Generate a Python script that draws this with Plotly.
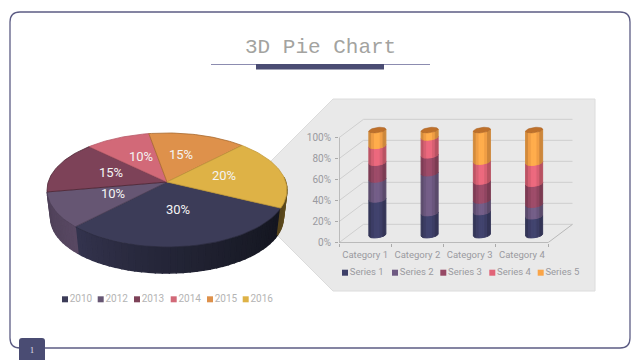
import math
import plotly.graph_objects as go

# ---------- data ----------
pie_labels = ["2010", "2012", "2013", "2014", "2015", "2016"]
pie_values = [30, 10, 15, 10, 15, 20]
categories = ["Category 1", "Category 2", "Category 3", "Category 4"]
series_names = ["Series 1", "Series 2", "Series 3", "Series 4", "Series 5"]
series_1 = [34, 21, 22, 18]
series_2 = [19, 38, 11, 11]
series_3 = [16, 17, 18, 20]
series_4 = [16, 17, 19, 20]
series_5 = [15, 7, 30, 31]
y_ticks = [0, 20, 40, 60, 80, 100]

# ---------- style ----------
pie_top = ["#3c3c58", "#665673", "#7d4258", "#d26978", "#de914b", "#deb246"]
pie_line = ["#2c2c40", "#4e4058", "#4c2534", "#b85a68", "#a8692e", "#c2993a"]
pie_wall_a = {0: (52, 52, 78), 1: (78, 64, 88), 5: (85, 68, 28)}
pie_wall_b = {0: (20, 22, 32), 1: (88, 72, 98), 5: (120, 96, 36)}
pie_legend = ["#3c3c58", "#665673", "#7d4258", "#d26978", "#de914b", "#deb246"]
bar_col = [(62, 64, 105), (110, 90, 130), (150, 72, 100), (225, 100, 120), (250, 165, 72)]
narrow = "Roboto, sans-serif"
CX, CY, RX, K, P, DROP, S = 167, 182, 118.8, 55.9, 0.14, 28, 0.97
START = 116

fig = go.Figure()


def poly(xs, ys, color, lc=None, lw=0.6, ax=1):
    kw = {} if ax == 1 else {"xaxis": "x2", "yaxis": "y2"}
    fig.add_trace(go.Scatter(x=xs, y=ys, mode="lines", fill="toself", fillcolor=color,
                             line=dict(color=lc or color, width=lw), hoverinfo="skip",
                             showlegend=False, cliponaxis=False, **kw))


def rgb(c, f=1.0):
    return "rgb(%d,%d,%d)" % tuple(min(255, max(0, round(v * f))) for v in c)


def proj(deg):
    t = math.radians(deg)
    u, v = math.sin(t), -math.cos(t)
    d = 1 - P * v
    return CX + RX * u / d, CY + K * v / d


def low(deg):
    x, y = proj(deg)
    return CX + S * (x - CX), CY + DROP + S * (y - CY)


# slice angle spans come from the values
total = sum(pie_values)
spans = []
a = START
for val in pie_values:
    b = a + 360 * val / total
    spans.append((a, b))
    a = b

# pie outer wall
STEP = 3
for i, (a, b) in enumerate(spans):
    if i not in pie_wall_a:
        continue
    if a >= 360:
        a, b = a - 360, b - 360
    lo, hi = max(a, 85), min(b, 272)
    n = max(1, int((hi - lo) / STEP))
    for k in range(n):
        t0 = lo + (hi - lo) * k / n
        t1 = lo + (hi - lo) * (k + 1) / n
        mix = 1 - (k + 0.5) / n
        c = tuple(pie_wall_a[i][j] * (1 - mix) + pie_wall_b[i][j] * mix for j in range(3))
        if i == 0:
            c = tuple(pie_wall_b[0][j] + (pie_wall_a[0][j] - pie_wall_b[0][j]) * ((k + 0.5) / n) ** 1.3 for j in range(3))
        p0, p1, q0, q1 = proj(t0), proj(t1), low(t0), low(t1)
        col = rgb(c)
        poly([p0[0], p1[0], q1[0], q0[0], p0[0]], [p0[1], p1[1], q1[1], q0[1], p0[1]], col, col, 1.4)

# pie top
for i, (a, b) in enumerate(spans):
    pts = [proj(a + (b - a) * k / 40) for k in range(41)]
    xs = [CX] + [p[0] for p in pts] + [CX]
    ys = [CY] + [p[1] for p in pts] + [CY]
    poly(xs, ys, pie_top[i], pie_line[i], 0.8)

# pie percentage labels
lab_x = [178, 113, 111, 141, 181, 224]
lab_y = [211, 195, 174, 158, 156, 177]
fig.add_trace(go.Scatter(x=lab_x, y=lab_y, mode="text",
                         text=["%d%%" % v for v in pie_values],
                         textfont=dict(family=narrow, size=13, color="#f4f4f4"),
                         hoverinfo="skip", showlegend=False, cliponaxis=False))

# pie legend
for lx, name, col in zip([65, 100.7, 137, 173.7, 210, 245.7], pie_labels, pie_legend):
    fig.add_trace(go.Scatter(x=[lx], y=[299.3], mode="markers+text", text=[name],
                             textposition="middle right",
                             marker=dict(symbol="square", size=6, color=col),
                             textfont=dict(family=narrow, size=10, color="#b4b4b4"),
                             hoverinfo="skip", showlegend=False, cliponaxis=False))

# bar chart legend
for lx, name, c in zip([345, 395, 443.3, 492.3, 540.7], series_names, bar_col):
    fig.add_trace(go.Scatter(x=[lx], y=[272.7], mode="markers+text", text=[name],
                             textposition="middle right",
                             marker=dict(symbol="square", size=6, color=rgb(c)),
                             textfont=dict(family=narrow, size=9.5, color="#9a9aa0"),
                             hoverinfo="skip", showlegend=False, cliponaxis=False))

# ---------- bar chart, on its own axes ----------
DX, DY = 0.469, 0.175     # depth of the box, in axis units
N = len(categories)
grid = "#cfcfcf"
axis_col = "#aaaaaa"
X_MAX = N - 0.5 + DX + 0.02
Y_MAX = 1 + DY + 0.02
for tick in y_ticks:
    y = tick / 100
    fig.add_trace(go.Scatter(x=[-0.5, -0.5 + DX, N - 0.5 + DX], y=[y, y + DY, y + DY], mode="lines",
                             line=dict(color=grid, width=1), xaxis="x2", yaxis="y2",
                             hoverinfo="skip", showlegend=False, cliponaxis=False))
# floor edge and the two axis lines
fig.add_trace(go.Scatter(x=[N - 0.5, N - 0.5 + DX], y=[0, DY], mode="lines",
                         line=dict(color="#b8b8b8", width=1), xaxis="x2", yaxis="y2",
                         hoverinfo="skip", showlegend=False, cliponaxis=False))
fig.add_trace(go.Scatter(x=[-0.5, -0.5, N - 0.5], y=[1, 0, 0], mode="lines",
                         line=dict(color=axis_col, width=1.4), xaxis="x2", yaxis="y2",
                         hoverinfo="skip", showlegend=False, cliponaxis=False))

R, H, T = 0.163, 0.025, 0.010
STRIPS = 6
stack = [series_1, series_2, series_3, series_4, series_5]
shade = [0.84, 0.96, 1.05, 1.05, 0.96, 0.82]
for c in range(N):
    bx = c + DX / 2
    by = DY / 2 - 0.015
    tot = sum(s[c] for s in stack)
    base = 0.0
    for si, s in enumerate(stack):
        top = base + s[c] / tot
        for st in range(STRIPS):
            u0 = -1 + 2 * st / STRIPS
            u1 = -1 + 2 * (st + 1) / STRIPS
            us = [u0 + (u1 - u0) * k / 4 for k in range(5)]
            f = lambda u: -H * math.sqrt(max(0, 1 - u * u)) + T * u
            xs = [bx + R * u for u in us] + [bx + R * u for u in reversed(us)]
            ys = [by + base + f(u) for u in us] + [by + top + f(u) for u in reversed(us)]
            xs.append(xs[0])
            ys.append(ys[0])
            col = rgb(bar_col[si], shade[st])
            poly(xs, ys, col, col, 1.0, ax=2)
        base = top
    # top cap
    th = [2 * math.pi * k / 40 for k in range(41)]
    poly([bx + R * math.cos(t) for t in th],
         [by + base + H * math.sin(t) + T * math.cos(t) for t in th],
         rgb((190, 112, 42)), rgb((170, 100, 40)), 0.5, ax=2)

PX_X = 209 / N            # pixels per category
PX_Y = 105                # pixels per 100%
fig.update_layout(
    width=640, height=360, margin=dict(l=0, r=0, t=0, b=0, autoexpand=False),
    paper_bgcolor="white", plot_bgcolor="rgba(0,0,0,0)", showlegend=False,
    xaxis=dict(range=[0, 640], domain=[0, 1], visible=False, fixedrange=True),
    yaxis=dict(range=[360, 0], domain=[0, 1], visible=False, fixedrange=True),
    xaxis2=dict(range=[-0.5, X_MAX], domain=[339 / 640, (339 + (X_MAX + 0.5) * PX_X) / 640], anchor="y2",
                tickmode="array", tickvals=list(range(N)), ticktext=categories,
                ticks="", showgrid=False, zeroline=False, showline=False, tickangle=0,
                automargin=False, ticklabelstandoff=5,
                tickfont=dict(family=narrow, size=9.5, color="#9a9aa0"),
                minor=dict(tickmode="array", tickvals=[k - 0.5 for k in range(N + 1)],
                           ticks="outside", ticklen=3, tickcolor=axis_col, showgrid=False),
                fixedrange=True),
    yaxis2=dict(range=[0, Y_MAX], domain=[1 - 242.7 / 360, 1 - (242.7 - Y_MAX * PX_Y) / 360], anchor="x2",
                tickmode="array", tickvals=[v / 100 for v in y_ticks],
                ticktext=["%d%%" % v for v in y_ticks], automargin=False, ticklabelstandoff=2,
                ticks="outside", ticklen=3, tickcolor=axis_col, showgrid=False, zeroline=False,
                showline=False,
                tickfont=dict(family=narrow, size=10, color="#9a9aa0"),
                fixedrange=True),
    shapes=[
        dict(type="path", layer="below", xref="x", yref="y",
             path="M 20 12 L 620 12 Q 630 12 630 22 L 630 338 Q 630 348 620 348 L 20 348 Q 10 348 10 338 L 10 22 Q 10 12 20 12 Z",
             line=dict(color="#5c5c84", width=1.3), fillcolor="white"),
        dict(type="path", layer="below", xref="x", yref="y",
             path="M 237 195 L 333 99 L 595 99 L 595 291 L 333 291 Z",
             line=dict(color="#dcdcdc", width=1), fillcolor="#e9e9e9"),
        dict(type="line", layer="below", xref="x", yref="y", x0=211, x1=430, y0=64.5, y1=64.5,
             line=dict(color="#8c8cb0", width=1)),
        dict(type="rect", layer="below", xref="x", yref="y", x0=256, x1=384, y0=64, y1=69.5,
             line=dict(width=0), fillcolor="#4a4c73"),
        dict(type="path", layer="above", xref="x", yref="y",
             path="M 19 341 Q 19 338 22 338 L 42 338 Q 45 338 45 341 L 45 360 L 19 360 Z",
             line=dict(width=0), fillcolor="#4a4c73"),
    ],
    annotations=[
        dict(x=320, y=47.5, xref="x", yref="y", text="3D Pie Chart", showarrow=False,
             font=dict(family="Liberation Mono, monospace", size=21, color="#a3a3a0")),
        dict(x=32, y=350, xref="x", yref="y", text="1", showarrow=False,
             font=dict(family="Liberation Serif, serif", size=8, color="#e8e8f0")),
    ],
)

fig.write_html("out.html", config=dict(displayModeBar=False),
               post_script="document.body.style.margin='0';document.body.style.overflow='hidden';")
